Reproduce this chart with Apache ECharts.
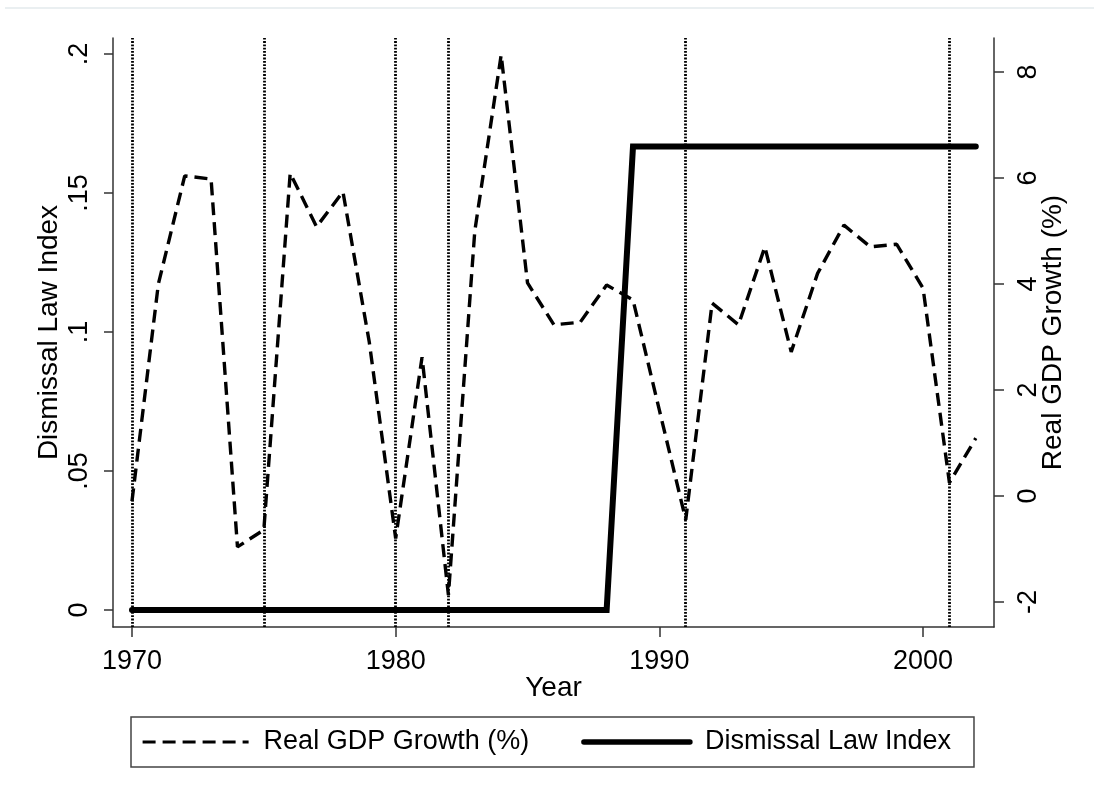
<!DOCTYPE html>
<html>
<head>
<meta charset="utf-8">
<script src="https://cdn.jsdelivr.net/npm/echarts@6/dist/echarts.min.js"></script>
<style>
  html, body { margin: 0; padding: 0; background: #fff; }
  #chart { width: 1094px; height: 803px; }
</style>
</head>
<body>
<div id="chart"></div>
<script>
// Annual observations
const years = [1970, 1971, 1972, 1973, 1974, 1975, 1976, 1977, 1978, 1979,
               1980, 1981, 1982, 1983, 1984, 1985, 1986, 1987, 1988, 1989,
               1990, 1991, 1992, 1993, 1994, 1995, 1996, 1997, 1998, 1999,
               2000, 2001, 2002];
const gdpGrowth = [-0.1, 4.0, 6.04, 5.98, -0.96, -0.64, 6.09, 5.08, 5.74, 2.9,
                   -0.8, 2.62, -1.87, 5.0, 8.32, 4.02, 3.23, 3.28, 3.98, 3.7,
                   1.62, -0.45, 3.64, 3.23, 4.7, 2.72, 4.2, 5.11, 4.7, 4.75,
                   3.92, 0.25, 1.09];
const dismissalIndex = [0, 0, 0, 0, 0, 0, 0, 0, 0, 0,
                        0, 0, 0, 0, 0, 0, 0, 0, 0, 0.1667,
                        0.1667, 0.1667, 0.1667, 0.1667, 0.1667, 0.1667, 0.1667, 0.1667, 0.1667, 0.1667,
                        0.1667, 0.1667, 0.1667];
// Years marked with vertical reference lines
const markYears = [1970, 1975, 1980, 1982, 1991, 2001];
// Tick labels
const xTicks = [1970, 1980, 1990, 2000];
const leftTicks = [0, 0.05, 0.1, 0.15, 0.2];
const rightTicks = [-2, 0, 2, 4, 6, 8];

const FONT = 'Arial, "Liberation Sans", sans-serif';
const AXIS_COLOR = '#333';
const TICK_FS = 27;
const TITLE_FS = 28;

const gdpData = years.map((y, i) => [y, gdpGrowth[i]]);
const dismissalData = years.map((y, i) => [y, dismissalIndex[i]]);

function stataNum(v) {
  if (v === 0) return '0';
  return String(+v.toFixed(3)).replace(/^0\./, '.').replace(/^-0\./, '-.');
}

const chart = echarts.init(document.getElementById('chart'), null, { renderer: 'canvas' });
chart.setOption({
  animation: false,
  backgroundColor: '#fff',
  textStyle: { fontFamily: FONT },
  grid: { left: 113, right: 100, top: 38, bottom: 176 },
  xAxis: {
    type: 'value',
    min: 1969.28,
    max: 2002.69,
    name: 'Year',
    nameLocation: 'middle',
    nameMoveOverlap: false,
    nameGap: 47,
    nameTextStyle: { fontSize: TITLE_FS, color: '#000', fontFamily: FONT },
    axisLine: { show: true, onZero: false, lineStyle: { color: AXIS_COLOR, width: 1.5 } },
    axisTick: { show: true, length: 10, customValues: xTicks, lineStyle: { color: AXIS_COLOR, width: 1.5 } },
    axisLabel: { customValues: xTicks, fontSize: TICK_FS, color: '#000', margin: 21, fontFamily: FONT,
                 formatter: v => String(v) },
    splitLine: { show: false }
  },
  yAxis: [
    {
      type: 'value',
      position: 'left',
      min: -0.006115,
      max: 0.20575,
      name: 'Dismissal Law Index',
      nameLocation: 'middle',
      nameRotate: 90,
      nameMoveOverlap: false,
      nameGap: 50,
      nameTextStyle: { fontSize: TITLE_FS, color: '#000', fontFamily: FONT },
      axisLine: { show: true, onZero: false, lineStyle: { color: AXIS_COLOR, width: 1.5 } },
      axisTick: { show: true, length: 9, customValues: leftTicks, lineStyle: { color: AXIS_COLOR, width: 1.5 } },
      axisLabel: { customValues: leftTicks, rotate: 90, fontSize: TICK_FS, color: '#000', margin: 20,
                   fontFamily: FONT, formatter: stataNum },
      splitLine: { show: false }
    },
    {
      type: 'value',
      position: 'right',
      min: -2.4717,
      max: 8.6415,
      name: 'Real GDP Growth (%)',
      nameLocation: 'middle',
      nameRotate: 90,
      nameMoveOverlap: false,
      nameGap: 45,
      nameTextStyle: { fontSize: TITLE_FS, color: '#000', fontFamily: FONT },
      axisLine: { show: true, onZero: false, lineStyle: { color: AXIS_COLOR, width: 1.5 } },
      axisTick: { show: true, length: 10, customValues: rightTicks, lineStyle: { color: AXIS_COLOR, width: 1.5 } },
      axisLabel: { customValues: rightTicks, rotate: 90, fontSize: TICK_FS, color: '#000', margin: 21,
                   fontFamily: FONT, formatter: stataNum },
      splitLine: { show: false }
    }
  ],
  legend: {
    left: 131,
    top: 717,
    orient: 'horizontal',
    itemWidth: 106,
    itemHeight: 14,
    itemGap: 52,
    padding: [10, 23, 10, 10],
    borderColor: '#444',
    borderWidth: 1.5,
    borderRadius: 0,
    itemStyle: { opacity: 0 },
    textStyle: { fontSize: TICK_FS, color: '#000', fontFamily: FONT, lineHeight: 30, padding: [0, 0, 0, 10] },
    data: [
      { name: 'Real GDP Growth (%)', lineStyle: { width: 3.2, type: [13, 7] } },
      { name: 'Dismissal Law Index', lineStyle: { width: 5.5, cap: 'round' } }
    ]
  },
  graphic: [
    {
      type: 'line',
      shape: { x1: 5, y1: 8, x2: 1094, y2: 8 },
      style: { stroke: '#e3eaec', lineWidth: 1.5 },
      silent: true
    }
  ],
  series: [
    {
      name: 'Real GDP Growth (%)',
      type: 'line',
      yAxisIndex: 1,
      data: gdpData,
      showSymbol: false,
      symbol: 'none',
      lineStyle: { color: '#000', width: 3.4, type: [13, 7] },
      itemStyle: { color: '#000' },
      z: 3,
      markLine: {
        silent: true,
        symbol: ['none', 'none'],
        label: { show: false },
        lineStyle: { color: '#000', width: 2.8, type: [1.8, 1.5], opacity: 1 },
        emphasis: { disabled: true },
        data: markYears.map(y => ({ xAxis: y }))
      }
    },
    {
      name: 'Dismissal Law Index',
      type: 'line',
      yAxisIndex: 0,
      data: dismissalData,
      showSymbol: false,
      symbol: 'none',
      lineStyle: { color: '#000', width: 6, cap: 'round', join: 'miter' },
      itemStyle: { color: '#000' },
      z: 4
    }
  ]
});
</script>
</body>
</html>
